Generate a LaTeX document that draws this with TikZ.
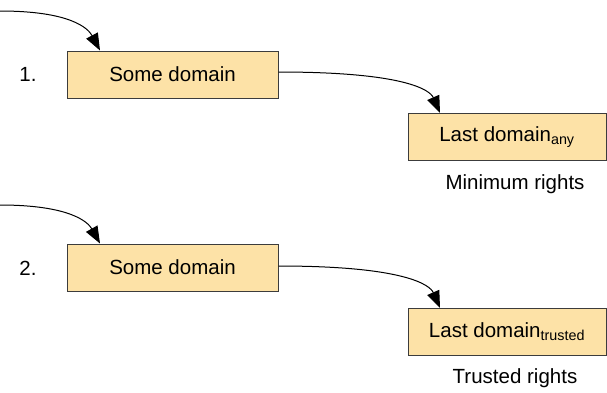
\documentclass[tikz,border=0pt]{standalone}
\usepackage{fontspec}
\setmainfont{Liberation Sans}
\usetikzlibrary{arrows.meta}
\definecolor{boxfill}{RGB}{253,226,167}
\definecolor{boxline}{RGB}{60,60,60}
\tikzset{
  dombox/.style={draw=boxline, line width=1pt, fill=boxfill, inner sep=0pt,
    minimum width=#1, minimum height=47pt, font=\fontsize{20.5}{24}\selectfont},
  plain/.style={inner sep=0pt, font=\fontsize{20.5}{24}\selectfont},
  conn/.style={line width=1pt, -{Triangle[length=17pt,width=13pt]}}
}
\begin{document}
\begin{tikzpicture}[x=1pt,y=-1pt]
\useasboundingbox (0,0) rectangle (607,392);
% row 1
\coordinate (in1) at (0,11);
\node[dombox=211pt] (some1) at (172.5,74.5) {Some domain};
\node[dombox=198pt] (last1) at (507,137) {Last domain\textsubscript{any}};
\node[plain] (n1) at (28,74) {1.};
\node[plain] (r1) at (515,184) {Minimum rights};
\draw[conn] (in1) .. controls (70,11) and (88,28) .. (some1.north west -| 100,0);
\draw[conn] (some1.east |- 0,72) .. controls (405,72) and (430,90) .. (last1.north west -| 440,0);
% row 2
\coordinate (in2) at (0,205);
\node[dombox=211pt] (some2) at (172.5,267.5) {Some domain};
\node[dombox=198pt] (last2) at (507,332) {Last domain\textsubscript{trusted}};
\node[plain] (n2) at (28,268) {2.};
\node[plain] (r2) at (515,378) {Trusted rights};
\draw[conn] (in2) .. controls (70,205) and (88,222) .. (some2.north west -| 100,0);
\draw[conn] (some2.east |- 0,266) .. controls (405,266) and (430,285) .. (last2.north west -| 440,0);
\end{tikzpicture}
\end{document}
